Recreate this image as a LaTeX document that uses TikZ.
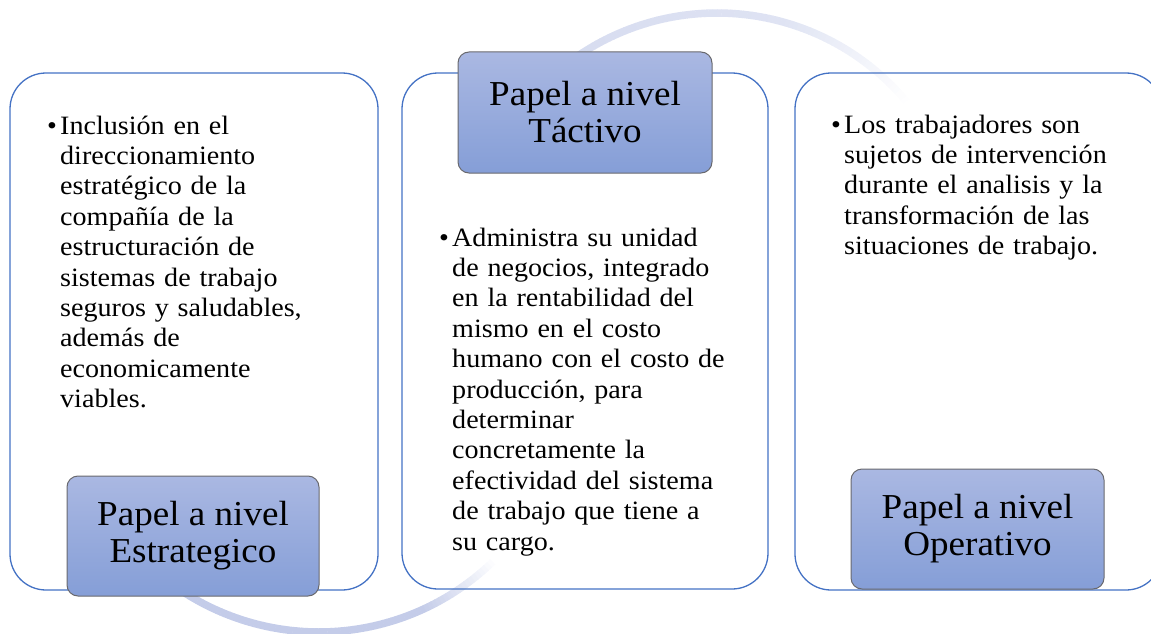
\documentclass[tikz,border=0pt]{standalone}
\usepackage{fontspec}
\setmainfont{Liberation Serif}[FakeStretch=1.06]
\definecolor{boxblue}{RGB}{68,114,196}
\definecolor{lbltop}{RGB}{170,184,226}
\definecolor{lblbot}{RGB}{133,158,215}
\definecolor{lblline}{RGB}{105,105,110}
\definecolor{arcC}{RGB}{196,204,233}
\tikzset{
  bigbox/.style={draw=boxblue, line width=1.3pt, rounded corners=36pt, inner sep=0pt},
  lblbox/.style={draw=lblline, line width=1pt, rounded corners=11pt, top color=lbltop, bottom color=lblbot,
    align=center, font=\fontsize{35}{37}\selectfont, inner sep=0pt},
  bodytext/.style={anchor=base west, align=left, text width=330pt, inner sep=0pt,
    font=\fontsize{26.5}{30.4}\selectfont},
  bul/.style={anchor=base west, inner sep=0pt, font=\fontsize{26.5}{30.4}\selectfont},
  arcseg/.style={line width=7.5pt, line cap=butt}
}
\begin{document}
\begin{tikzpicture}[x=1pt,y=-1pt]
\useasboundingbox (0,0) rectangle (1151,634);
\clip (0,0) rectangle (1151,634);
% background arcs
\foreach \a in {-152,-151,...,-40}{
  \pgfmathtruncatemacro\p{max(0,(\a<-75 ? 75-20*(\a+152)/77 : 55*(-40-\a)/35))}
  \draw[arcseg, color=arcC!\p!white] (717,260) ++(\a:247) arc[start angle=\a, end angle=\a+1.1, radius=247];
}
\foreach \a in {45,46,...,135}{
  \pgfmathtruncatemacro\p{max(0,(\a>65 ? 100 : 100*(\a-45)/20))}
  \draw[arcseg, color=arcC!\p!white] (319,382) ++(\a:250) arc[start angle=\a, end angle=\a+1.1, radius=250];
}
% big boxes
\node[bigbox, minimum width=368pt, minimum height=517pt] (b1) at (194,331.5) {};
\node[bigbox, minimum width=366pt, minimum height=516pt] (b2) at (585,331) {};
\node[bigbox, minimum width=367pt, minimum height=517pt] (b3) at (978.5,331.5) {};
% body texts
\node[bul] (u1) at (47,134) {•};
\node[bodytext] (t1) at (60,134) {Inclusión en el\\direccionamiento\\estratégico de la\\compañía de la\\estructuración de\\sistemas de trabajo\\seguros y saludables,\\además de\\economicamente\\viables.};
\node[bul] (u2) at (439,246) {•};
\node[bodytext] (t2) at (452,246) {Administra su unidad\\de negocios, integrado\\en la rentabilidad del\\mismo en el costo\\humano con el costo de\\producción, para\\determinar\\concretamente la\\efectividad del sistema\\de trabajo que tiene a\\su cargo.};
\node[bul] (u3) at (831,133) {•};
\node[bodytext] (t3) at (844,133) {Los trabajadores son\\sujetos de intervención\\durante el analisis y la\\transformación de las\\situaciones de trabajo.};
% label boxes
\node[lblbox, minimum width=252pt, minimum height=120pt] (l1) at (193,536) {Papel a nivel\\Estrategico};
\node[lblbox, minimum width=254pt, minimum height=121pt] (l2) at (585,112.5) {Papel a nivel\\Táctivo};
\node[lblbox, minimum width=253pt, minimum height=120pt] (l3) at (977.5,529) {Papel a nivel\\Operativo};
\end{tikzpicture}
\end{document}
